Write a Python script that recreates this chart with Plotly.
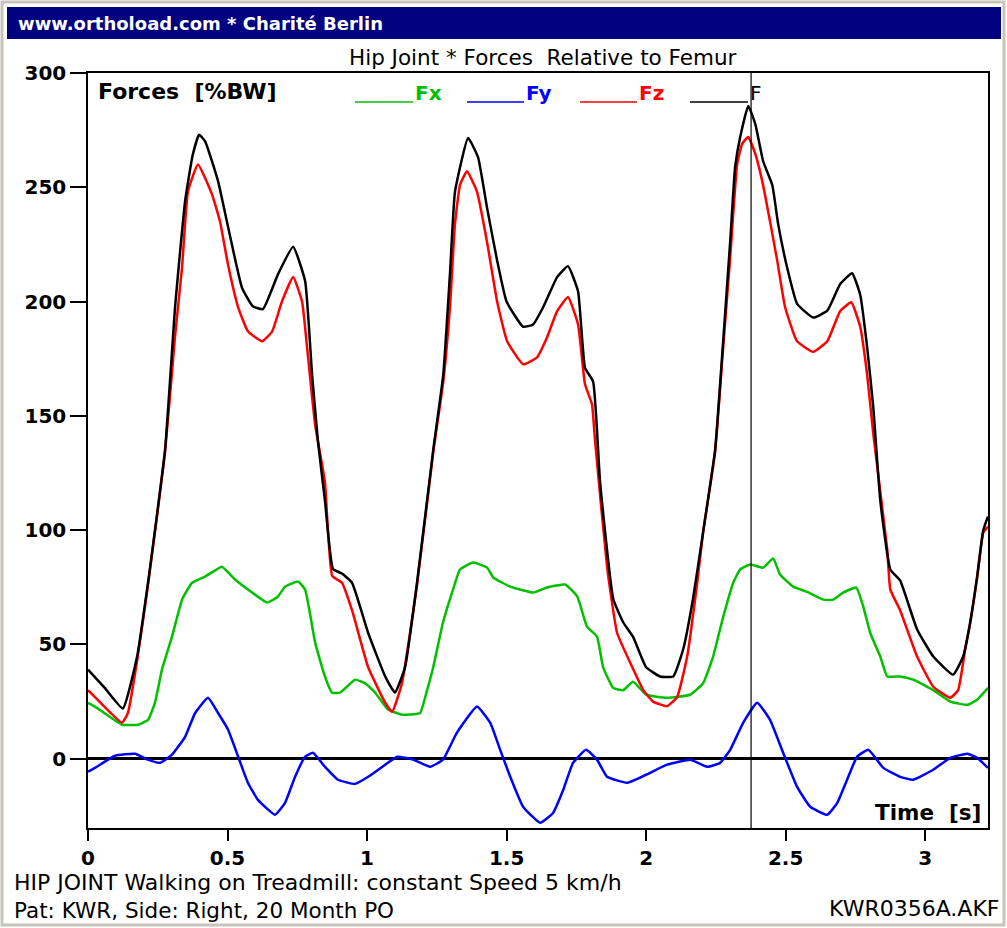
import plotly.graph_objects as go

# ---------------- data ----------------
t_f = [0, 0.06, 0.125, 0.176, 0.215, 0.276, 0.312, 0.348, 0.375, 0.398, 0.42, 0.466, 0.502, 0.552, 0.59,
       0.627, 0.681, 0.735, 0.778, 0.803, 0.824, 0.849, 0.878, 0.91, 0.946, 1.004, 1.065, 1.10, 1.136, 1.179,
       1.237, 1.273, 1.297, 1.315, 1.362, 1.398, 1.43, 1.466, 1.50, 1.559, 1.595, 1.631, 1.681, 1.72, 1.756,
       1.781, 1.81, 1.835, 1.882, 1.918, 1.953, 2.0, 2.05, 2.097, 2.133, 2.168, 2.204, 2.247, 2.276, 2.301,
       2.319, 2.337, 2.366, 2.391, 2.419, 2.452, 2.473, 2.505, 2.541, 2.599, 2.649, 2.695, 2.738, 2.767, 2.792,
       2.814, 2.839, 2.875, 2.91, 2.971, 3.029, 3.1, 3.136, 3.161, 3.186, 3.208, 3.225]
f_res = [39, 31, 22, 44.7, 77, 135, 197.5, 244, 264, 273, 270, 252.7, 232.6, 206, 198,
         196.7, 212, 224, 209, 168, 139, 113, 83, 81, 77, 55, 36, 29, 40, 77,
         135, 168, 212, 248, 271.6, 263, 241, 218, 200, 189, 190, 197.5, 210.7, 215.5, 204.5,
         171, 165, 121, 70, 59.6, 53.4, 40, 36, 36, 48, 70, 99, 135, 182.6, 226,
         259, 272, 285.6, 277.7, 261.5, 251, 234, 215, 199, 193, 196, 207.6, 212.4, 203, 180,
         153.7, 113, 82.8, 78, 56.5, 44.7, 36.8, 44.7, 59.6, 79.7, 100, 106]

t_fz = [0, 0.025, 0.122, 0.143, 0.176, 0.215, 0.276, 0.312, 0.337, 0.358, 0.394, 0.444, 0.473, 0.502, 0.538,
        0.573, 0.624, 0.66, 0.695, 0.735, 0.767, 0.785, 0.814, 0.849, 0.875, 0.91, 0.946, 1.004, 1.065, 1.09,
        1.125, 1.179, 1.237, 1.273, 1.297, 1.315, 1.333, 1.358, 1.394, 1.43, 1.466, 1.502, 1.559, 1.609, 1.645,
        1.681, 1.72, 1.756, 1.781, 1.806, 1.817, 1.86, 1.896, 1.943, 1.99, 2.025, 2.075, 2.111, 2.147, 2.183,
        2.204, 2.247, 2.276, 2.301, 2.326, 2.344, 2.366, 2.391, 2.416, 2.444, 2.47, 2.498, 2.541, 2.599, 2.649,
        2.695, 2.735, 2.767, 2.792, 2.814, 2.864, 2.875, 2.91, 2.971, 3.029, 3.09, 3.118, 3.143, 3.161, 3.186,
        3.208, 3.225]
fz = [30, 27, 15.8, 20, 43, 76, 134, 185, 215, 248, 260, 247, 235, 216, 197.5,
      187, 182.6, 187, 200, 210.7, 200, 180, 146, 121, 80, 77, 65, 40, 24.5, 20.6,
      33, 76, 134, 165, 197.5, 234, 251, 257, 248, 226, 200, 182.6, 172.6, 175.6, 184.4,
      195.8, 202, 190, 163.8, 155, 139, 84, 55, 42, 30, 25, 23, 27, 44.7, 77,
      99, 134, 180, 219, 260, 269, 272, 264.6, 252.7, 235, 217.7, 197.5, 182.6, 178, 182.6,
      195.8, 199.7, 189, 168, 142, 91.5, 74, 65, 44.7, 31.5, 26.7, 30, 47.7, 59, 79,
      99, 101.6]

t_fx = [0, 0.025, 0.122, 0.179, 0.215, 0.24, 0.265, 0.301, 0.337, 0.373, 0.419, 0.444, 0.48, 0.527, 0.588,
        0.642, 0.681, 0.706, 0.753, 0.778, 0.814, 0.849, 0.875, 0.903, 0.957, 0.993, 1.029, 1.075, 1.125, 1.154,
        1.19, 1.215, 1.237, 1.272, 1.308, 1.333, 1.38, 1.43, 1.452, 1.513, 1.595, 1.645, 1.71, 1.753, 1.788,
        1.824, 1.846, 1.882, 1.918, 1.953, 2.0, 2.075, 2.158, 2.204, 2.24, 2.276, 2.312, 2.337, 2.373, 2.419,
        2.455, 2.48, 2.527, 2.577, 2.634, 2.67, 2.706, 2.753, 2.778, 2.803, 2.839, 2.864, 2.91, 2.957, 3.029,
        3.09, 3.151, 3.186, 3.225]
fx = [24.5, 22.8, 14.9, 14.9, 17, 24.5, 39, 53.4, 69.6, 77, 79.7, 81.5, 84, 78.4, 72.7,
      68.3, 71, 75.3, 77.5, 74, 50.8, 36, 28.9, 28.9, 34.6, 33, 28.9, 21.5, 19.3, 19.3,
      20, 30, 40, 59.6, 74, 82.8, 85.8, 83.6, 79.3, 75.3, 72.7, 74.9, 76.2, 71, 57.8,
      53.4, 40, 31, 30, 33.7, 28, 26.7, 28, 33, 44.7, 62, 77, 82.8, 85, 83.6,
      87.6, 80.6, 75.3, 73, 69.6, 69.6, 72.7, 74.9, 66.6, 55, 44.7, 36, 36, 34.6, 30,
      25, 23.6, 25.8, 31]

t_fy = [0, 0.025, 0.097, 0.168, 0.215, 0.258, 0.301, 0.348, 0.384, 0.43, 0.466, 0.502, 0.538, 0.573, 0.609,
        0.67, 0.706, 0.742, 0.778, 0.806, 0.849, 0.896, 0.957, 1.004, 1.065, 1.108, 1.165, 1.226, 1.272, 1.322,
        1.394, 1.441, 1.477, 1.513, 1.559, 1.62, 1.667, 1.703, 1.738, 1.785, 1.824, 1.86, 1.932, 2.0, 2.075,
        2.158, 2.219, 2.265, 2.301, 2.348, 2.398, 2.444, 2.491, 2.541, 2.588, 2.649, 2.685, 2.72, 2.756, 2.796,
        2.85, 2.91, 2.957, 3.029, 3.09, 3.151, 3.186, 3.225]
fy = [-5.7, -4, 1.3, 2.2, -0.4, -1.8, 1.8, 9.6, 20, 26.7, 20, 12.7, 0.9, -10.5, -18,
      -24.5, -19.3, -7.9, 0.9, 2.6, -3.5, -9.2, -11, -7.9, -2.6, 0.9, -0.4, -3.5, -0.4, 11.4,
      22.8, 15.8, 3.9, -7.9, -21, -28, -23.6, -13.6, -1.8, 3.9, -0.4, -7.9, -10.5, -7, -2.6,
      -0.4, -3.5, -1.8, 3.9, 15.8, 24.5, 17, 2.6, -12.3, -21, -24.5, -19.3, -9.2, 0.9, 3.9,
      -4, -7.9, -9.2, -4.8, 0.4, 2.2, 0.4, -4]

x_ticks = [0, 0.5, 1, 1.5, 2, 2.5, 3]
x_ticklabels = ["0", "0.5", "1", "1.5", "2", "2.5", "3"]
y_ticks = [0, 50, 100, 150, 200, 250, 300]
x_range = [0, 3.225]
y_range = [-30.3, 300]
cursor_t = 2.376

series = [
    ("Fx", t_fx, fx, "#00c000"),
    ("Fy", t_fy, fy, "#0000ff"),
    ("Fz", t_fz, fz, "#ff0000"),
    ("F", t_f, f_res, "#000000"),
]

# ---------------- layout geometry ----------------
W, H = 1007, 928
L, R, T, B = 88, 988, 73, 828


def px(x):
    return (x - L) / (R - L)


def py(y):
    return (B - y) / (B - T)


fig = go.Figure()
for name, t, v, c in series:
    n = min(len(t), len(v))
    fig.add_trace(go.Scatter(x=t[:n], y=v[:n], mode="lines", name=name,
                             line=dict(color=c, width=2.5, shape="spline", smoothing=0.4),
                             showlegend=False, hoverinfo="skip"))

shapes = []
# outer window frame
shapes.append(dict(type="rect", xref="paper", yref="paper", x0=px(2), x1=px(1004), y0=py(2), y1=py(925),
                   line=dict(color="#c8c4bc", width=3), fillcolor="rgba(0,0,0,0)", layer="below"))
# title bar
shapes.append(dict(type="rect", xref="paper", yref="paper", x0=px(7), x1=px(1001), y0=py(7), y1=py(39),
                   line=dict(width=0), fillcolor="#000080", layer="below"))
# cursor line
shapes.append(dict(type="line", xref="x", yref="paper", x0=cursor_t, x1=cursor_t, y0=0, y1=1,
                   line=dict(color="#000000", width=1.2)))
# legend sample lines
leg = [("Fx", 355, 413, "#00c000"), ("Fy", 467, 524, "#0000ff"), ("Fz", 580, 637, "#ff0000"), ("F", 690, 748, "#000000")]
for name, a, b, c in leg:
    shapes.append(dict(type="line", xref="paper", yref="paper", x0=px(a), x1=px(b), y0=py(102), y1=py(102),
                       line=dict(color=c, width=1.5)))

ann = []
ann.append(dict(text="www.orthoload.com * Charité Berlin", xref="paper", yref="paper", x=px(16), y=py(23),
                xanchor="left", yanchor="middle", showarrow=False,
                font=dict(family="DejaVu Sans", size=18, color="white", weight="bold")))
ann.append(dict(text="Hip Joint * Forces\u00a0 Relative to Femur", xref="paper", yref="paper", x=px(543), y=py(57),
                xanchor="center", yanchor="middle", showarrow=False,
                font=dict(family="DejaVu Sans", size=21.5, color="#000000")))
ann.append(dict(text="Forces\u00a0 [%BW]", xref="paper", yref="paper", x=px(96), y=py(92),
                xanchor="left", yanchor="middle", showarrow=False,
                font=dict(family="DejaVu Sans", size=22, color="#000000", weight="bold")))
for name, a, b, c in leg:
    ann.append(dict(text=name, xref="paper", yref="paper", x=px(b), y=py(93),
                    xanchor="left", yanchor="middle", showarrow=False,
                    font=dict(family="DejaVu Sans", size=20, color=c,
                              weight="normal" if name == "F" else "bold")))
ann.append(dict(text="Time\u00a0 [s]", xref="paper", yref="paper", x=px(983), y=py(812),
                xanchor="right", yanchor="middle", showarrow=False,
                font=dict(family="DejaVu Sans", size=21.5, color="#000000", weight="bold")))
ann.append(dict(text="HIP JOINT Walking on Treadmill: constant Speed 5 km/h", xref="paper", yref="paper",
                x=px(12), y=py(882), xanchor="left", yanchor="middle", showarrow=False,
                font=dict(family="DejaVu Sans", size=22, color="#000000")))
ann.append(dict(text="Pat: KWR, Side: Right, 20 Month PO", xref="paper", yref="paper",
                x=px(12), y=py(910), xanchor="left", yanchor="middle", showarrow=False,
                font=dict(family="DejaVu Sans", size=21.5, color="#000000")))
ann.append(dict(text="KWR0356A.AKF", xref="paper", yref="paper",
                x=px(1001), y=py(908), xanchor="right", yanchor="middle", showarrow=False,
                font=dict(family="DejaVu Sans", size=22, color="#000000")))

fig.update_layout(
    width=W, height=H,
    margin=dict(l=L, r=W - R, t=T, b=H - B, pad=0),
    paper_bgcolor="white", plot_bgcolor="white",
    shapes=shapes, annotations=ann, showlegend=False,
)
fig.update_xaxes(range=x_range, tickvals=x_ticks, ticktext=x_ticklabels, showgrid=False, zeroline=False,
                 showline=True, mirror=True, linecolor="#000000", linewidth=1.5,
                 ticks="outside", ticklen=11, tickwidth=1.5, tickcolor="#000000",
                 tickfont=dict(family="DejaVu Sans", size=20, color="#000000", weight="bold"))
fig.update_yaxes(range=y_range, tickvals=y_ticks, showgrid=False, zeroline=True, zerolinecolor="#000000",
                 zerolinewidth=2.5, showline=True, mirror=True, linecolor="#000000", linewidth=1.5,
                 ticks="outside", ticklen=16, tickwidth=1.5, tickcolor="#000000",
                 tickfont=dict(family="DejaVu Sans", size=20, color="#000000", weight="bold"))

fig.write_html("out.html", config={"displayModeBar": False},
               post_script="document.body.style.margin='0';document.body.style.overflow='hidden';")
